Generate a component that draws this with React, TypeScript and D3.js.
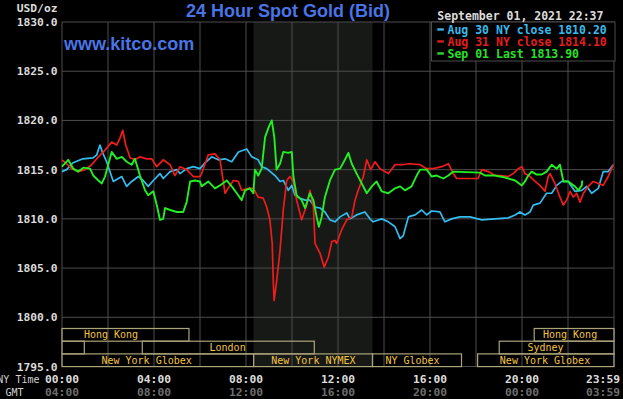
import React from "react";
import * as d3 from "d3";

const W = 623;
const H = 399;

// y ticks (price)
const yTicks = [1795, 1800, 1805, 1810, 1815, 1820, 1825, 1830];
// x ticks
const labelHours = [0, 4, 8, 12, 16, 20, 24];
const nyTimeLabels = ["00:00", "04:00", "08:00", "12:00", "16:00", "20:00", "23:59"];
const gmtLabels = ["04:00", "08:00", "12:00", "16:00", "20:00", "00:00", "03:59"];
const gridHours = [2, 4, 6, 8, 10, 12, 14, 16, 18, 20, 22];

// NYMEX session shading (hours)
const nymexSession = [8.33, 13.5];

// Market sessions: [row, startHour, endHour, label, labelCenterHour]
const marketRowIdx = [0, 0, 1, 1, 1, 2, 2, 2, 2];
const marketStart = [0, 20.53, 0, 3.49, 19.01, 0, 8.33, 13.5, 18.07];
const marketEnd = [5.52, 24, 0.97, 10.97, 24, 8.33, 13.5, 17.37, 24];
const marketLabels = ["Hong Kong", "Hong Kong", "", "London", "Sydney", "New York Globex", "New York NYMEX", "NY Globex", "New York Globex"];
const marketLabelAt = [2.13, 22.09, 0.5, 7.2, 21.02, 3.68, 10.93, 15.24, 21.0];

// legend
const legendLabels = ["Aug 30 NY close 1810.20", "Aug 31 NY close 1814.10", "Sep 01 Last 1813.90"];

// Series data [hour (NY time), price]
const aug30: [number, number][] = [
  [0, 1814.8], [0.2, 1815.0], [0.48, 1815.7], [0.91, 1816.1], [1.35, 1816.2], [1.51, 1816.5], [1.65, 1817.5],
  [1.77, 1816.7], [1.94, 1815.8], [2.23, 1813.8], [2.45, 1814.1], [2.6, 1814.3], [2.81, 1813.3], [3.03, 1813.8],
  [3.32, 1814.3], [3.53, 1813.9], [3.75, 1813.3], [3.97, 1813.9], [4.26, 1814.6], [4.4, 1814.1], [4.7, 1814.8],
  [4.99, 1815.0], [5.13, 1814.6], [5.42, 1815.1], [5.71, 1815.3], [6.0, 1815.1], [6.22, 1815.7], [6.51, 1816.3],
  [6.8, 1816.0], [7.09, 1816.1], [7.38, 1815.8], [7.67, 1816.8], [8.03, 1817.1], [8.25, 1816.3], [8.53, 1816.0],
  [8.68, 1815.3], [8.9, 1815.1], [9.26, 1814.4], [9.48, 1813.8], [9.62, 1813.9], [9.84, 1812.9], [9.99, 1813.4],
  [10.13, 1812.4], [10.35, 1812.1], [10.57, 1811.9], [10.78, 1811.9], [11.0, 1811.2], [11.22, 1811.1],
  [11.43, 1810.7], [11.65, 1809.9], [11.87, 1809.7], [12.09, 1810.2], [12.38, 1810.6], [12.52, 1810.0],
  [12.81, 1810.4], [13.17, 1810.7], [13.39, 1810.0], [13.53, 1809.7], [13.9, 1810.0], [14.19, 1809.7],
  [14.48, 1809.2], [14.7, 1808.0], [14.84, 1808.3], [15.06, 1810.2], [15.35, 1810.4], [15.64, 1810.9],
  [15.86, 1810.4], [16.07, 1810.8], [16.43, 1810.7], [16.65, 1809.7], [16.94, 1810.0], [17.3, 1810.2],
  [17.74, 1810.2], [18.25, 1809.9], [18.83, 1810.0], [19.4, 1810.1], [19.7, 1810.4], [19.91, 1810.7],
  [20.13, 1810.4], [20.35, 1810.7], [20.49, 1811.4], [20.78, 1811.6], [21.07, 1812.6], [21.29, 1812.6],
  [21.51, 1813.4], [21.73, 1813.8], [22.01, 1813.8], [22.3, 1812.8], [22.6, 1812.9], [22.81, 1813.3],
  [23.03, 1812.6], [23.32, 1813.1], [23.53, 1814.8], [23.75, 1814.8], [23.97, 1815.5],
];

const aug31: [number, number][] = [
  [0, 1816.0], [0.2, 1815.6], [0.42, 1815.1], [0.71, 1814.8], [1.0, 1815.0], [1.29, 1815.5], [1.58, 1816.3],
  [1.8, 1816.8], [2.16, 1817.8], [2.38, 1817.5], [2.52, 1818.2], [2.64, 1819.0], [2.77, 1817.5], [2.96, 1816.2],
  [3.17, 1816.0], [3.39, 1816.3], [3.68, 1816.1], [3.9, 1816.1], [4.12, 1815.3], [4.4, 1816.0], [4.7, 1815.5],
  [4.91, 1814.4], [5.13, 1815.3], [5.42, 1815.0], [5.71, 1814.3], [6.0, 1814.3], [6.07, 1814.6], [6.36, 1816.5],
  [6.65, 1816.6], [6.87, 1816.0], [7.09, 1812.6], [7.3, 1813.4], [7.45, 1813.9], [7.67, 1813.8], [7.81, 1812.9],
  [8.1, 1813.1], [8.32, 1813.1], [8.53, 1812.2], [8.75, 1812.1], [8.9, 1811.2], [9.04, 1809.9], [9.14, 1807.5],
  [9.19, 1803.4], [9.22, 1801.7], [9.33, 1803.6], [9.48, 1806.8], [9.62, 1810.9], [9.77, 1813.9], [9.91, 1814.3],
  [10.06, 1813.8], [10.2, 1811.9], [10.42, 1809.9], [10.64, 1811.4], [10.78, 1812.9], [10.93, 1811.2],
  [11.0, 1807.5], [11.22, 1806.5], [11.4, 1805.1], [11.58, 1806.1], [11.73, 1807.7], [11.87, 1807.8],
  [11.94, 1807.5], [12.16, 1808.9], [12.38, 1809.9], [12.6, 1810.2], [12.74, 1811.9], [12.88, 1812.9],
  [13.1, 1814.3], [13.25, 1816.0], [13.42, 1815.0], [13.61, 1815.8], [13.83, 1815.1], [14.19, 1814.6],
  [14.48, 1815.5], [14.77, 1815.5], [15.13, 1815.6], [15.57, 1815.5], [15.86, 1815.1], [16.14, 1815.1],
  [16.51, 1815.3], [16.8, 1815.6], [17.01, 1814.6], [17.16, 1814.1], [18.09, 1814.1], [18.25, 1815.0],
  [18.53, 1814.8], [18.83, 1814.4], [19.12, 1814.4], [19.4, 1814.3], [19.62, 1814.6], [19.84, 1815.1],
  [19.99, 1815.3], [20.13, 1814.6], [20.35, 1814.3], [20.57, 1813.8], [20.78, 1813.4], [21.0, 1812.8],
  [21.14, 1814.3], [21.22, 1814.6], [21.43, 1813.6], [21.65, 1812.2], [21.8, 1811.4], [21.94, 1811.9],
  [22.09, 1812.8], [22.23, 1812.2], [22.38, 1812.6], [22.52, 1811.7], [22.67, 1812.6], [22.88, 1813.3],
  [23.1, 1813.8], [23.32, 1813.6], [23.53, 1813.4], [23.75, 1814.3], [23.97, 1815.5],
];

const sep01: [number, number][] = [
  [0, 1815.3], [0.27, 1816.0], [0.49, 1815.1], [0.71, 1814.8], [0.93, 1815.2], [1.22, 1815.1], [1.36, 1814.4],
  [1.58, 1813.9], [1.73, 1813.6], [1.87, 1814.3], [2.01, 1815.5], [2.16, 1816.8], [2.38, 1816.1], [2.6, 1816.3],
  [2.81, 1815.8], [3.03, 1815.5], [3.17, 1816.1], [3.39, 1814.4], [3.61, 1812.9], [3.75, 1812.4], [3.97, 1812.8],
  [4.12, 1811.4], [4.26, 1809.9], [4.4, 1810.0], [4.48, 1811.1], [4.7, 1810.9], [4.99, 1810.7], [5.27, 1810.7],
  [5.42, 1811.7], [5.57, 1813.8], [5.78, 1813.9], [6.0, 1813.8], [6.07, 1813.3], [6.36, 1813.8], [6.65, 1813.1],
  [6.87, 1813.4], [7.16, 1813.9], [7.38, 1813.3], [7.6, 1812.6], [7.81, 1811.9], [7.96, 1812.9], [8.17, 1813.1],
  [8.32, 1812.6], [8.39, 1815.0], [8.53, 1814.4], [8.68, 1815.1], [8.83, 1818.3], [9.0, 1819.4], [9.12, 1820.0],
  [9.23, 1818.3], [9.33, 1815.0], [9.48, 1815.6], [9.62, 1816.8], [9.84, 1816.7], [9.99, 1816.8], [10.06, 1814.3],
  [10.2, 1812.4], [10.42, 1811.9], [10.57, 1811.1], [10.78, 1812.6], [10.93, 1811.9], [11.07, 1810.2],
  [11.17, 1809.2], [11.29, 1810.2], [11.43, 1812.2], [11.65, 1813.9], [11.87, 1815.0], [12.09, 1815.1],
  [12.3, 1816.0], [12.45, 1816.7], [12.6, 1815.6], [12.81, 1814.6], [13.03, 1813.6], [13.25, 1812.6],
  [13.47, 1813.3], [13.68, 1813.8], [13.9, 1812.8], [14.19, 1812.6], [14.48, 1813.1], [14.7, 1813.3],
  [14.91, 1812.9], [15.2, 1813.3], [15.42, 1814.4], [15.57, 1815.0], [15.86, 1815.0], [16.07, 1814.3],
  [16.29, 1814.4], [16.58, 1814.1], [16.8, 1814.4], [17.01, 1814.8], [18.17, 1814.7], [18.39, 1814.4],
  [18.83, 1814.4], [19.26, 1814.2], [19.7, 1813.9], [19.99, 1813.4], [20.13, 1813.8], [20.27, 1814.4],
  [20.42, 1814.8], [20.64, 1814.5], [20.86, 1814.5], [21.07, 1814.8], [21.29, 1815.5], [21.51, 1815.1],
  [21.65, 1815.5], [21.8, 1813.8], [22.01, 1813.8], [22.3, 1813.3], [22.45, 1812.9], [22.6, 1813.4], [22.62, 1813.9],
];

const seriesData = [aug30, aug31, sep01];
const seriesColors = ["#33bdf0", "#f01c1c", "#22ee22"];
const legendColors = ["#3ab9ea", "#e51d1d", "#2be02b"];

const PL = 62, PR = 614, PT = 22, PB = 366.5;
const MONO = "'DejaVu Sans Mono', monospace";
const SANS = "'Liberation Sans', Arial, sans-serif";
const GRID = "#4d4d4d";
const BOX = "#aba37a";
const BOXTXT = "#f2c443";

export default function App() {
  const x = d3.scaleLinear().domain([0, 24]).range([PL, PR]);
  const y = d3.scaleLinear().domain([1795, 1830]).range([PB, PT]);
  const line = d3
    .line<[number, number]>()
    .x((d) => x(d[0]))
    .y((d) => y(d[1]));

  const rowTop = [328.5, 341.2, 353.9];
  const rowH = 12.7;

  const drawOrder = [0, 1, 2];

  return (
    <svg
      width={W}
      height={H}
      viewBox={`0 0 ${W} ${H}`}
      style={{ position: "fixed", left: 0, top: 0, background: "#000", display: "block" }}
    >
      <rect x={0} y={0} width={W} height={H} fill="#000" />
      {/* NYMEX shading */}
      <rect
        x={x(nymexSession[0])}
        y={PT}
        width={x(nymexSession[1]) - x(nymexSession[0])}
        height={PB - PT}
        fill="#171917"
      />
      {/* grid */}
      {yTicks.slice(1, -1).map((t) => (
        <line key={"h" + t} x1={PL} x2={PR} y1={y(t)} y2={y(t)} stroke={GRID} strokeWidth={1} />
      ))}
      {gridHours.map((h) => (
        <line key={"v" + h} x1={x(h)} x2={x(h)} y1={PT} y2={PB} stroke={GRID} strokeWidth={1} />
      ))}
      <rect x={PL} y={PT} width={PR - PL} height={PB - PT} fill="none" stroke={GRID} strokeWidth={1} />

      {/* market session boxes */}
      {marketRowIdx.map((r, i) => (
        <g key={"m" + i}>
          <rect
            x={x(marketStart[i])}
            y={rowTop[r]}
            width={x(marketEnd[i]) - x(marketStart[i])}
            height={rowH}
            fill="none"
            stroke={BOX}
            strokeWidth={1.2}
          />
          {marketLabels[i] && (
            <text
              x={x(marketLabelAt[i])}
              y={rowTop[r] + 9.6}
              fill={BOXTXT}
              fontFamily={MONO}
              fontSize={10}
              textAnchor="middle"
            >
              {marketLabels[i]}
            </text>
          )}
        </g>
      ))}

      {/* series lines */}
      {drawOrder.map((i) => (
        <path
          key={"s" + i}
          d={line(seriesData[i]) || ""}
          fill="none"
          stroke={seriesColors[i]}
          strokeWidth={i === 2 ? 1.9 : 1.7}
          strokeLinejoin="round"
        />
      ))}

      {/* legend box */}
      <rect x={431.5} y={PT} width={PR - 431.5 + 1} height={39} fill="#000" stroke={GRID} strokeWidth={1} />
      {legendLabels.map((lab, i) => (
        <g key={"l" + i}>
          <rect x={437.3} y={28.3 + i * 12} width={6.5} height={2.3} fill={legendColors[i]} />
          <text
            x={447.5}
            y={34 + i * 12}
            fill={legendColors[i]}
            fontFamily={MONO}
            fontWeight="bold"
            fontSize={11.5}
          >
            {lab}
          </text>
        </g>
      ))}

      {/* date */}
      <text x={437.3} y={19.5} fill="#dcdcdc" fontFamily={MONO} fontWeight="bold" fontSize={11.5}>
        September 01, 2021 22:37
      </text>

      {/* title */}
      <text x={186} y={17} fill="#4a74e6" fontFamily={SANS} fontWeight="bold" fontSize={18}>
        24 Hour Spot Gold (Bid)
      </text>
      <text x={64} y={50} fill="#4a74e6" fontFamily={SANS} fontWeight="bold" fontSize={18}>
        www.kitco.com
      </text>

      {/* y axis */}
      <text x={57.5} y={12} fill="#dcdcdc" fontFamily={MONO} fontWeight="bold" fontSize={11.3} textAnchor="end">
        USD/oz
      </text>
      {yTicks.map((t) => (
        <text
          key={"yl" + t}
          x={57.5}
          y={y(t) + 4}
          fill="#dcdcdc"
          fontFamily={MONO}
          fontWeight="bold"
          fontSize={11.3}
          textAnchor="end"
        >
          {t.toFixed(1)}
        </text>
      ))}

      {/* x axis */}
      <text x={39.5} y={382.5} fill="#d0d0d0" fontFamily={MONO} fontSize={10} textAnchor="end">
        NY Time
      </text>
      <text x={23.5} y={396} fill="#d0d0d0" fontFamily={MONO} fontSize={10} textAnchor="end">
        GMT
      </text>
      {labelHours.map((h, i) => {
        const last = i === labelHours.length - 1;
        return (
          <g key={"xl" + h}>
            <text
              x={last ? 620 : x(h)}
              y={382.5}
              fill="#dcdcdc"
              fontFamily={MONO}
              fontWeight="bold"
              fontSize={11.3}
              textAnchor={last ? "end" : "middle"}
            >
              {nyTimeLabels[i]}
            </text>
            <text
              x={last ? 620 : x(h)}
              y={396}
              fill="#6e6e6e"
              fontFamily={MONO}
              fontWeight="bold"
              fontSize={11.3}
              textAnchor={last ? "end" : "middle"}
            >
              {gmtLabels[i]}
            </text>
          </g>
        );
      })}
    </svg>
  );
}
